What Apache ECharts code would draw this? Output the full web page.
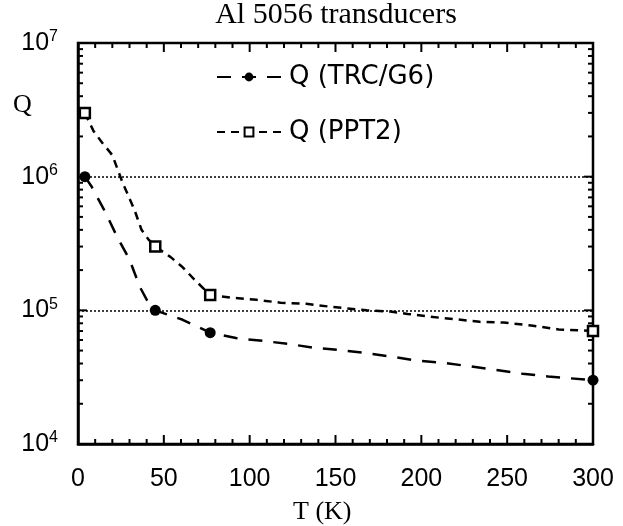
<!DOCTYPE html>
<html>
<head>
<meta charset="utf-8">
<script src="https://cdn.jsdelivr.net/npm/echarts@6/dist/echarts.min.js"></script>
<style>
  html, body { margin: 0; padding: 0; background: #fff; }
  #chart { width: 623px; height: 526px; }
</style>
</head>
<body>
<div id="chart"></div>
<script>
// measured points (markers)
const trcT = [4, 45, 77, 300];
const trcQ = [1e6, 1e5, 6.8e4, 3e4];
const pptT = [4, 45, 77, 300];
const pptQ = [3e6, 3e5, 1.3e5, 7e4];

// curve traced between the markers
const trcCurveT = [8, 16, 23, 30, 36, 41, 61, 92, 108, 123, 137, 152, 167, 183, 198, 213, 229, 242, 259, 274];
const trcCurveQ = [8.4e5, 5.4e5, 3.5e5, 2.4e5, 1.5e5, 1.14e5, 8.5e4, 6.2e4, 5.9e4, 5.6e4, 5.25e4, 5.05e4, 4.8e4, 4.5e4, 4.2e4, 4.05e4, 3.8e4, 3.6e4, 3.35e4, 3.2e4];
const pptCurveT = [9, 14, 20, 26, 33, 37, 41, 54, 61, 68, 90, 104, 118, 133, 148, 168, 182, 192, 207, 219, 234, 248, 264, 280];
const pptCurveQ = [2.2e6, 1.8e6, 1.45e6, 9e5, 5.6e5, 4e5, 3.4e5, 2.5e5, 2.1e5, 1.69e5, 1.24e5, 1.2e5, 1.14e5, 1.12e5, 1.06e5, 1.0e5, 9.8e4, 9.4e4, 8.9e4, 8.6e4, 8.2e4, 8.1e4, 7.7e4, 7.2e4];

// tick positions
const xMajorTicks = [0, 50, 100, 150, 200, 250, 300];
const yMajorTicks = [1e4, 1e5, 1e6, 1e7];
const xMin = 0, xMax = 300, yMin = 1e4, yMax = 1e7;

var xMinorTicks = [];
for (var t = 10; t < xMax; t += 10) {
    if (t % 50 !== 0) xMinorTicks.push(t);
}
var yMinorTicks = [];
yMajorTicks.slice(0, -1).forEach(function (d) {
    for (var k = 2; k <= 9; k++) yMinorTicks.push(k * d);
});

// [x, y, length, kind]  kind 0 = x tick, 1 = y tick
var tickData = [];
xMajorTicks.forEach(function (v) { tickData.push([v, yMin, 9, 0]); });
xMinorTicks.forEach(function (v) { tickData.push([v, yMin, 5, 0]); });
yMajorTicks.forEach(function (v) { tickData.push([xMin, v, 9, 1]); });
yMinorTicks.forEach(function (v) { tickData.push([xMin, v, 5, 1]); });

function buildData(mT, mQ, cT, cQ) {
    var pts = [];
    mT.forEach(function (t, i) { pts.push({ value: [t, mQ[i]] }); });
    cT.forEach(function (t, i) { pts.push({ value: [t, cQ[i]], symbol: 'none' }); });
    pts.sort(function (a, b) { return a.value[0] - b.value[0]; });
    return pts;
}

// inward ticks on all four sides of the frame
function renderTick(params, api) {
    var len = api.value(2);
    var kind = api.value(3);
    var style = { stroke: '#000', lineWidth: 2 };
    var a, b;
    if (kind === 0) {
        a = api.coord([api.value(0), yMin]);
        b = api.coord([api.value(0), yMax]);
        return { type: 'group', children: [
            { type: 'line', shape: { x1: a[0], y1: a[1], x2: a[0], y2: a[1] - len }, style: style },
            { type: 'line', shape: { x1: b[0], y1: b[1], x2: b[0], y2: b[1] + len }, style: style }
        ] };
    }
    a = api.coord([xMin, api.value(1)]);
    b = api.coord([xMax, api.value(1)]);
    return { type: 'group', children: [
        { type: 'line', shape: { x1: a[0], y1: a[1], x2: a[0] + len, y2: a[1] }, style: style },
        { type: 'line', shape: { x1: b[0], y1: b[1], x2: b[0] - len, y2: b[1] }, style: style }
    ] };
}

var myChart = echarts.init(document.getElementById('chart'));
var tickFont = 'Liberation Sans';

const option = {
    animation: false,
    backgroundColor: '#fff',
    title: {
        text: 'Al 5056 transducers',
        left: 336, top: 0, textAlign: 'center', padding: 0,
        textStyle: { fontFamily: 'Liberation Serif', fontSize: 30, fontWeight: 'normal', color: '#000' }
    },
    graphic: [
        { type: 'text', left: 13, top: 92, style: { text: 'Q', font: '26px "Liberation Serif"', fill: '#000' } },
        { type: 'text', left: 293, top: 499, style: { text: 'T (K)', font: '26px "Liberation Serif"', fill: '#000' } }
    ],
    grid: { left: 78, right: 30, top: 43, bottom: 82, show: true, borderColor: '#000', borderWidth: 2.5 },
    legend: {
        orient: 'vertical', left: 216, top: 64, padding: 0,
        itemWidth: 64, itemHeight: 11, itemGap: 29,
        textStyle: { fontFamily: 'DejaVu Sans', fontSize: 26, color: '#000', padding: [0, 0, 0, 3] },
        data: ['Q (TRC/G6)', 'Q (PPT2)']
    },
    xAxis: {
        type: 'value', min: xMin, max: xMax, interval: 50,
        axisLine: { show: true, onZero: false, lineStyle: { color: '#000', width: 2.5 } },
        axisTick: { show: false },
        splitLine: { show: false },
        axisLabel: { fontFamily: tickFont, fontSize: 25, color: '#000', margin: 23 }
    },
    yAxis: {
        type: 'log', logBase: 10, min: yMin, max: yMax,
        axisLine: { show: true, onZero: false, lineStyle: { color: '#000', width: 2.5 } },
        axisTick: { show: false },
        splitLine: { show: true, lineStyle: { color: '#000', width: 1.5, type: [2, 2] } },
        axisLabel: {
            margin: 20,
            formatter: function (v) {
                return '{b|10}{s|' + Math.round(Math.log10(v)) + '}';
            },
            rich: {
                b: { fontFamily: tickFont, fontSize: 25, color: '#000' },
                s: { fontFamily: tickFont, fontSize: 16, color: '#000', padding: [0, 0, 12, 0] }
            }
        }
    },
    series: [
        {
            name: 'ticks', type: 'custom', silent: true, clip: false,
            data: tickData, renderItem: renderTick,
            encode: { x: 0, y: 1 }
        },
        {
            name: 'Q (TRC/G6)', type: 'line',
            data: buildData(trcT, trcQ, trcCurveT, trcCurveQ),
            symbol: 'circle', symbolSize: 11, showSymbol: true, showAllSymbol: true,
            itemStyle: { color: '#000' },
            lineStyle: { color: '#000', width: 2.5, type: [14, 11] },
            emphasis: { disabled: true }
        },
        {
            name: 'Q (PPT2)', type: 'line',
            data: buildData(pptT, pptQ, pptCurveT, pptCurveQ),
            symbol: 'rect', symbolSize: 10, showSymbol: true, showAllSymbol: true,
            itemStyle: { color: '#fff', borderColor: '#000', borderWidth: 2.5 },
            lineStyle: { color: '#000', width: 2.5, type: [8, 6] },
            emphasis: { disabled: true }
        }
    ]
};

myChart.setOption(option);
</script>
</body>
</html>
